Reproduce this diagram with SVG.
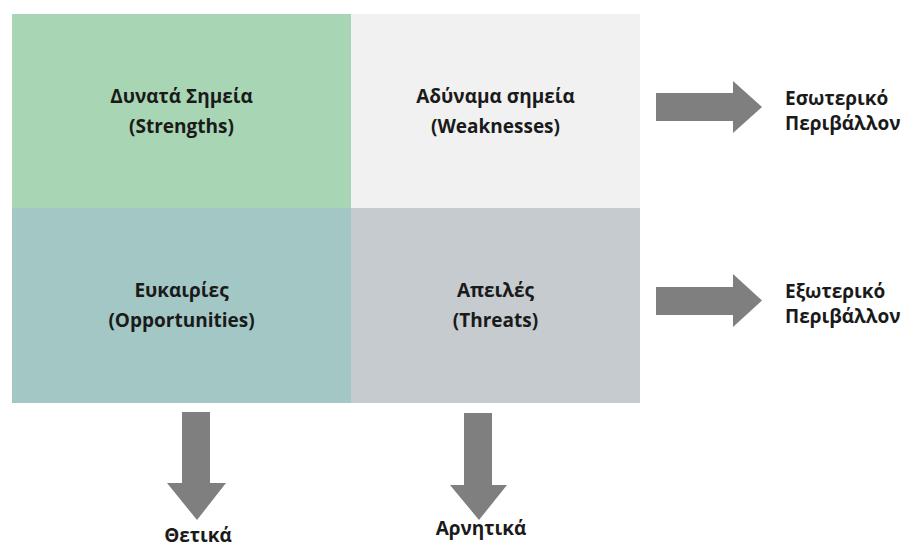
<svg xmlns="http://www.w3.org/2000/svg" width="904" height="549" viewBox="0 0 904 549">
<style>
text{font-family:"Open Sans","Noto Sans","DejaVu Sans",sans-serif;font-weight:bold;fill:#1a1a1a;font-size:19px}
.c{text-anchor:middle}
.arrow{fill:#7f7f7f}
</style>
<rect width="904" height="549" fill="#ffffff"/>
<g id="strengths">
<rect x="12" y="14" width="339" height="194" fill="#a8d5b4"/>
<text class="c" x="181.5" y="103">Δυνατά Σημεία</text>
<text class="c" x="181.5" y="133">(Strengths)</text>
</g>
<g id="weaknesses">
<rect x="351" y="14" width="289" height="194" fill="#f1f1f1"/>
<text class="c" x="495.5" y="103">Αδύναμα σημεία</text>
<text class="c" x="495.5" y="133">(Weaknesses)</text>
</g>
<g id="opportunities">
<rect x="12" y="208" width="339" height="195" fill="#a2c7c5"/>
<text class="c" x="181.5" y="297">Ευκαιρίες</text>
<text class="c" x="181.5" y="327">(Opportunities)</text>
</g>
<g id="threats">
<rect x="351" y="208" width="289" height="195" fill="#c5cbce"/>
<text class="c" x="495.5" y="297">Απειλές</text>
<text class="c" x="495.5" y="327">(Threats)</text>
</g>
<g id="internal">
<text x="785" y="105">Εσωτερικό</text>
<text x="785" y="130">Περιβάλλον</text>
</g>
<g id="external">
<text x="785" y="298">Εξωτερικό</text>
<text x="785" y="323">Περιβάλλον</text>
</g>
<g id="positive">
<text class="c" x="198" y="542">Θετικά</text>
</g>
<g id="negative">
<text class="c" x="481" y="535">Αρνητικά</text>
</g>
<g id="connectors">
<polygon class="arrow" points="656,93 733,93 733,81 762,107 733,133 733,121 656,121"/>
<polygon class="arrow" points="656,287 733,287 733,274 762,300.5 733,327 733,315 656,315"/>
<polygon class="arrow" points="182,412 210,412 210,483 226,483 197,520 167,483 182,483"/>
<polygon class="arrow" points="464,413 492,413 492,485 507,485 479,520 450,485 464,485"/>
</g>
</svg>
